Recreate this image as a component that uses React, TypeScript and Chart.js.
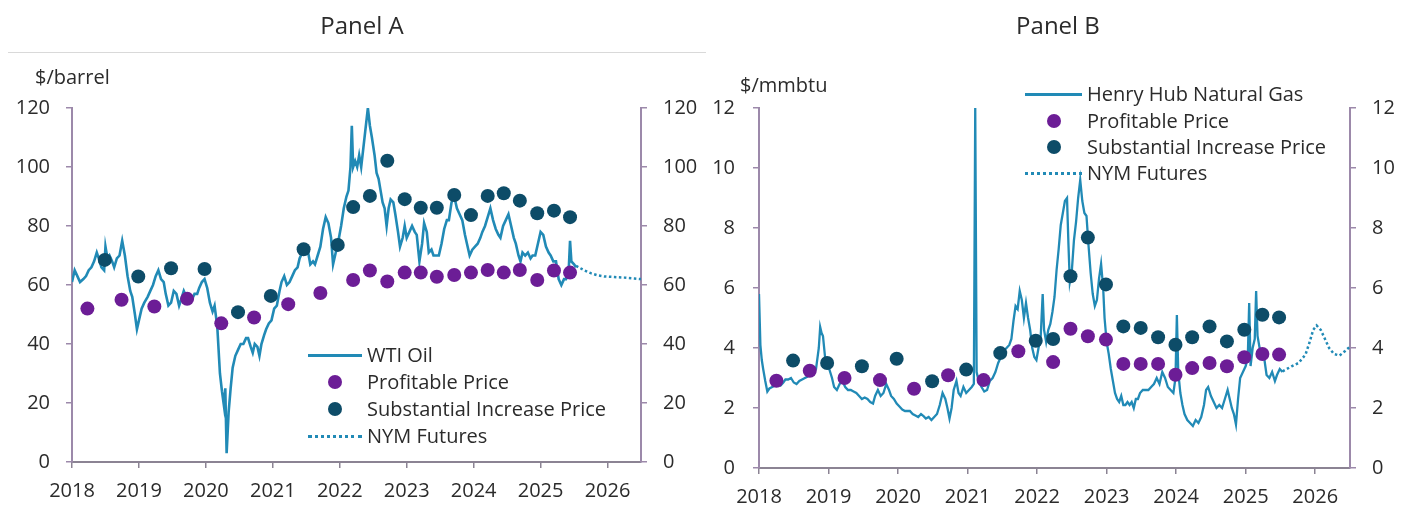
import React, { useEffect, useRef } from 'react';
import { Chart, registerables } from 'chart.js';

Chart.register(...registerables);

const FONT = "'Open Sans', 'Noto Sans', sans-serif";
const TEXT = '#2b2b2b';
const LINE_BLUE = '#218ab6';
const PURPLE = '#6c1d96';
const TEAL = '#0d4c68';
const AXIS_Y = '#9c89aa';
const AXIS_X = '#8b8393';

// ---------- shared tick labels ----------
const xTickYears = [2018, 2019, 2020, 2021, 2022, 2023, 2024, 2025, 2026];
const oilTicks = [0, 20, 40, 60, 80, 100, 120];
const gasTicks = [0, 2, 4, 6, 8, 10, 12];

// ---------- Panel A: WTI oil ($/barrel) ----------
const wtiDates = [
  2018.00, 2018.04, 2018.08, 2018.12, 2018.17, 2018.21, 2018.25, 2018.29, 2018.33, 2018.37,
  2018.40, 2018.44, 2018.48, 2018.50, 2018.53, 2018.56, 2018.60, 2018.63, 2018.67, 2018.71,
  2018.75, 2018.79, 2018.83, 2018.87, 2018.90, 2018.94, 2018.97, 2019.00, 2019.04, 2019.08,
  2019.13, 2019.17, 2019.21, 2019.25, 2019.29, 2019.33, 2019.37, 2019.40, 2019.44, 2019.48,
  2019.52, 2019.56, 2019.60, 2019.63, 2019.67, 2019.71, 2019.75, 2019.79, 2019.83, 2019.87,
  2019.90, 2019.94, 2019.98, 2020.02, 2020.06, 2020.10, 2020.13, 2020.17, 2020.21, 2020.24,
  2020.27, 2020.29, 2020.31, 2020.34, 2020.37, 2020.40, 2020.44, 2020.48, 2020.52, 2020.56,
  2020.60, 2020.63, 2020.67, 2020.70, 2020.73, 2020.77, 2020.80, 2020.83, 2020.87, 2020.90,
  2020.94, 2020.98, 2021.02, 2021.06, 2021.10, 2021.13, 2021.17, 2021.21, 2021.25, 2021.29,
  2021.33, 2021.37, 2021.40, 2021.44, 2021.48, 2021.52, 2021.56, 2021.60, 2021.63, 2021.67,
  2021.71, 2021.75, 2021.79, 2021.83, 2021.87, 2021.90, 2021.94, 2021.98, 2022.02, 2022.06,
  2022.10, 2022.13, 2022.16, 2022.18, 2022.20, 2022.23, 2022.26, 2022.29, 2022.32, 2022.35,
  2022.38, 2022.42, 2022.45, 2022.48, 2022.52, 2022.55, 2022.58, 2022.61, 2022.64, 2022.67,
  2022.70, 2022.73, 2022.76, 2022.80, 2022.83, 2022.87, 2022.90, 2022.94, 2022.97, 2023.00,
  2023.04, 2023.08, 2023.12, 2023.15, 2023.19, 2023.23, 2023.26, 2023.30, 2023.33, 2023.37,
  2023.40, 2023.44, 2023.48, 2023.52, 2023.56, 2023.60, 2023.63, 2023.67, 2023.71, 2023.75,
  2023.79, 2023.83, 2023.87, 2023.90, 2023.94, 2023.98, 2024.02, 2024.06, 2024.10, 2024.13,
  2024.17, 2024.21, 2024.25, 2024.29, 2024.33, 2024.37, 2024.40, 2024.44, 2024.48, 2024.52,
  2024.56, 2024.60, 2024.63, 2024.67, 2024.70, 2024.73, 2024.77, 2024.81, 2024.85, 2024.88,
  2024.92, 2024.96, 2025.00, 2025.04, 2025.08, 2025.12, 2025.15, 2025.19, 2025.23, 2025.27,
  2025.31, 2025.35, 2025.38, 2025.42, 2025.44, 2025.46, 2025.50, 2025.53,
];
const wtiValues = [
  61, 65, 63, 61, 62, 63, 65, 66, 68, 71,
  69, 66, 65, 73, 69, 70, 68, 66, 69, 70,
  75, 70, 63, 58, 56, 50, 45, 48, 52, 54,
  56, 58, 60, 63, 65, 62, 61, 57, 53, 54,
  58, 57, 53, 55, 58, 56, 54, 55, 57, 57,
  59, 61, 62, 59, 54, 51, 53, 46, 30, 24,
  19, 25, 3, 17, 25, 32, 36, 38, 40, 40,
  42, 42, 39, 37, 40, 39, 36, 40, 43, 45,
  47, 48, 52, 53, 58, 61, 63, 60, 61, 63,
  65, 66, 69, 71, 73, 72, 67, 68, 67, 70,
  73, 79, 83, 81, 76, 67, 71, 75, 80, 86,
  90, 92, 100, 114, 100, 102, 100, 104, 100, 106,
  112, 120, 114, 110, 104, 98, 96, 92, 88, 86,
  80, 86, 89, 88, 84, 78, 73, 76, 80, 76,
  78, 80, 78, 77, 68, 74, 81, 78, 71, 72,
  70, 70, 70, 74, 79, 82, 82, 88, 90, 86,
  84, 82, 77, 74, 70, 72, 73, 74, 76, 78,
  80, 83, 86, 82, 79, 77, 76, 80, 82, 84,
  80, 76, 74, 70, 68, 71, 70, 71, 69, 70,
  70, 74, 78, 77, 73, 71, 70, 68, 68, 62,
  60, 62, 62, 65, 75, 68, 67, 66,
];
const wtiFutDates = [2025.53, 2025.65, 2025.75, 2025.85, 2025.95, 2026.10, 2026.25, 2026.40, 2026.50];
const wtiFutValues = [66.5, 65, 64, 63.3, 62.9, 62.7, 62.5, 62.2, 62.0];

const oilProfDates = [
  2018.23, 2018.74, 2019.23, 2019.72, 2020.23, 2020.72, 2021.23, 2021.71,
  2022.20, 2022.45, 2022.71, 2022.97, 2023.21, 2023.45, 2023.71, 2023.96,
  2024.21, 2024.45, 2024.69, 2024.95, 2025.20, 2025.44,
];
const oilProfValues = [
  52, 55, 52.7, 55.3, 47, 49, 53.5, 57.3,
  61.7, 64.9, 61.2, 64.2, 64.2, 62.8, 63.4, 64.2,
  65.1, 64.2, 65.1, 61.7, 64.9, 64.2,
];
const oilSubDates = [
  2018.49, 2018.99, 2019.48, 2019.98, 2020.48, 2020.97, 2021.46, 2021.97,
  2022.20, 2022.45, 2022.71, 2022.97, 2023.21, 2023.45, 2023.71, 2023.96,
  2024.21, 2024.45, 2024.69, 2024.95, 2025.20, 2025.44,
];
const oilSubValues = [
  68.5, 62.9, 65.7, 65.4, 50.8, 56.3, 72.1, 73.6,
  86.4, 90.2, 102.1, 89.1, 86.2, 86.2, 90.5, 83.7,
  90.2, 91.1, 88.6, 84.3, 85.2, 83.0,
];

// ---------- Panel B: Henry Hub natural gas ($/mmbtu) ----------
const hhDates = [
  2018.00, 2018.02, 2018.04, 2018.06, 2018.09, 2018.12, 2018.15, 2018.19, 2018.23, 2018.27,
  2018.31, 2018.35, 2018.38, 2018.42, 2018.46, 2018.50, 2018.54, 2018.58, 2018.62, 2018.66,
  2018.70, 2018.74, 2018.78, 2018.82, 2018.86, 2018.88, 2018.90, 2018.92, 2018.95, 2018.98,
  2019.01, 2019.05, 2019.08, 2019.12, 2019.16, 2019.20, 2019.24, 2019.28, 2019.32, 2019.36,
  2019.40, 2019.44, 2019.48, 2019.52, 2019.56, 2019.60, 2019.64, 2019.67, 2019.71, 2019.75,
  2019.79, 2019.83, 2019.87, 2019.90, 2019.94, 2019.98, 2020.02, 2020.06, 2020.10, 2020.13,
  2020.17, 2020.21, 2020.25, 2020.29, 2020.33, 2020.37, 2020.40, 2020.44, 2020.48, 2020.52,
  2020.56, 2020.60, 2020.64, 2020.68, 2020.71, 2020.74, 2020.77, 2020.80, 2020.84, 2020.87,
  2020.90, 2020.94, 2020.98, 2021.02, 2021.06, 2021.09, 2021.11, 2021.13, 2021.16, 2021.20,
  2021.24, 2021.28, 2021.32, 2021.36, 2021.40, 2021.44, 2021.48, 2021.52, 2021.56, 2021.60,
  2021.63, 2021.66, 2021.69, 2021.72, 2021.75, 2021.78, 2021.81, 2021.84, 2021.87, 2021.90,
  2021.93, 2021.96, 2021.99, 2022.02, 2022.05, 2022.08, 2022.10, 2022.13, 2022.16, 2022.19,
  2022.22, 2022.25, 2022.28, 2022.31, 2022.34, 2022.37, 2022.40, 2022.43, 2022.45, 2022.47,
  2022.50, 2022.53, 2022.56, 2022.59, 2022.62, 2022.65, 2022.68, 2022.71, 2022.74, 2022.77,
  2022.80, 2022.83, 2022.86, 2022.89, 2022.92, 2022.95, 2022.97, 2023.00, 2023.03, 2023.06,
  2023.09, 2023.12, 2023.15, 2023.18, 2023.21, 2023.24, 2023.27, 2023.30, 2023.33, 2023.36,
  2023.39, 2023.42, 2023.45, 2023.48, 2023.52, 2023.56, 2023.60, 2023.64, 2023.68, 2023.72,
  2023.76, 2023.80, 2023.84, 2023.88, 2023.92, 2023.96, 2023.99, 2024.01, 2024.03, 2024.06,
  2024.09, 2024.12, 2024.16, 2024.20, 2024.24, 2024.28, 2024.32, 2024.36, 2024.40, 2024.43,
  2024.46, 2024.50, 2024.54, 2024.58, 2024.62, 2024.66, 2024.70, 2024.74, 2024.77, 2024.80,
  2024.83, 2024.86, 2024.89, 2024.92, 2024.96, 2025.00, 2025.03, 2025.05, 2025.07, 2025.10,
  2025.13, 2025.15, 2025.17, 2025.20, 2025.23, 2025.27, 2025.30, 2025.34, 2025.38, 2025.42,
  2025.45, 2025.49, 2025.53,
];
const hhValues = [
  5.8, 4.1, 3.6, 3.3, 2.9, 2.55, 2.65, 2.7, 2.75, 2.8,
  2.75, 2.85, 2.95, 2.95, 3.0, 2.85, 2.8, 2.9, 2.95, 3.0,
  3.05, 3.15, 3.2, 3.3, 4.0, 4.7, 4.5, 4.4, 3.7, 3.4,
  3.3, 3.0, 2.7, 2.6, 2.8, 2.9, 2.7, 2.6, 2.6, 2.55,
  2.5, 2.4, 2.3, 2.35, 2.3, 2.2, 2.15, 2.4, 2.6, 2.4,
  2.5, 2.8, 2.6, 2.4, 2.3, 2.15, 2.05, 1.95, 1.9, 1.9,
  1.9, 1.8, 1.75, 1.7, 1.8, 1.72, 1.65, 1.7, 1.6, 1.7,
  1.8, 2.1, 2.5, 2.3, 2.0, 1.65, 2.0, 2.6, 2.9, 2.5,
  2.4, 2.7, 2.5, 2.6, 2.7, 2.8, 12, 3.2, 2.9, 2.7,
  2.55, 2.6, 2.9, 3.0, 3.2, 3.5, 3.7, 3.9, 4.0, 4.1,
  4.3, 4.9, 5.4, 5.3, 5.9, 5.6, 5.0, 5.5, 5.0, 4.6,
  4.0, 3.7, 3.6, 4.0, 4.3, 5.8, 4.6, 4.2, 4.6, 4.8,
  5.2, 5.7, 6.6, 7.3, 8.1, 8.5, 8.9, 9.0, 7.5, 6.2,
  6.6, 7.6, 8.2, 9.0, 9.6, 8.9, 8.5, 8.4, 7.4, 6.5,
  5.8, 5.4, 5.6, 6.3, 6.8, 6.0, 5.0, 4.2, 3.8, 3.3,
  2.9, 2.5, 2.3, 2.2, 2.4, 2.1, 2.1, 2.2, 2.1, 2.2,
  2.0, 2.3, 2.3, 2.5, 2.6, 2.6, 2.6, 2.7, 2.8, 3.0,
  2.8, 3.2, 3.0, 2.7, 2.6, 2.5, 3.0, 5.1, 3.2, 2.5,
  2.1, 1.8, 1.6, 1.5, 1.4, 1.6, 1.5, 1.7, 2.1, 2.6,
  2.7, 2.4, 2.2, 2.0, 2.1, 2.0, 2.3, 2.6, 2.3, 2.0,
  1.8, 1.45, 2.3, 3.0, 3.2, 3.4, 3.7, 5.5, 3.4, 4.0,
  4.3, 5.9, 4.4, 4.0, 3.8, 3.6, 3.1, 3.0, 3.2, 2.9,
  3.1, 3.3, 3.2,
];
const hhFutDates = [2025.53, 2025.66, 2025.76, 2025.86, 2025.92, 2025.97, 2026.02, 2026.08, 2026.14, 2026.20, 2026.27, 2026.35, 2026.43, 2026.50];
const hhFutValues = [3.22, 3.39, 3.5, 3.78, 4.2, 4.6, 4.75, 4.6, 4.3, 4.0, 3.8, 3.75, 3.9, 4.05];

const gasProfDates = [
  2018.25, 2018.73, 2019.23, 2019.74, 2020.23, 2020.72, 2021.23, 2021.73,
  2022.23, 2022.48, 2022.73, 2022.99, 2023.24, 2023.49, 2023.74, 2023.99,
  2024.23, 2024.48, 2024.73, 2024.98, 2025.24, 2025.48,
];
const gasProfValues = [
  2.91, 3.24, 3.0, 2.93, 2.64, 3.09, 2.93, 3.89,
  3.53, 4.64, 4.39, 4.28, 3.47, 3.47, 3.47, 3.11,
  3.33, 3.5, 3.39, 3.69, 3.8, 3.78,
];
const gasSubDates = [
  2018.49, 2018.98, 2019.48, 2019.98, 2020.49, 2020.98, 2021.47, 2021.98,
  2022.23, 2022.48, 2022.73, 2022.99, 2023.24, 2023.49, 2023.74, 2023.99,
  2024.23, 2024.48, 2024.73, 2024.98, 2025.24, 2025.48,
];
const gasSubValues = [
  3.58, 3.5, 3.39, 3.64, 2.89, 3.28, 3.83, 4.24,
  4.3, 6.39, 7.68, 6.12, 4.72, 4.67, 4.36, 4.11,
  4.36, 4.72, 4.22, 4.61, 5.11, 5.02,
];

const pts = (xs: number[], ys: number[]) => xs.map((x, i) => ({ x, y: ys[i] }));

type PanelSpec = {
  lineLabel: string;
  lineDates: number[];
  lineValues: number[];
  lineWidth: number;
  futDates: number[];
  futValues: number[];
  profDates: number[];
  profValues: number[];
  subDates: number[];
  subValues: number[];
  yTicks: number[];
  leftW: number;
  rightW: number;
  xH: number;
  top: number;
  padL: number;
  padR: number;
  padX: number;
  width: number;
};

function buildConfig(s: PanelSpec): any {
  const yMin = s.yTicks[0];
  const yMax = s.yTicks[s.yTicks.length - 1];
  const tickFont = { family: FONT, size: 20 };
  const yScale = (position: string, pad: number, w: number) => ({
    type: 'linear',
    position,
    min: yMin,
    max: yMax,
    afterBuildTicks: (sc: any) => {
      sc.ticks = s.yTicks.map((v) => ({ value: v }));
    },
    afterFit: (sc: any) => {
      sc.width = w;
    },
    ticks: { font: tickFont, color: TEXT, padding: pad, callback: (v: any) => String(v) },
    grid: { display: true, drawOnChartArea: false, drawTicks: true, tickLength: 6, color: AXIS_Y, lineWidth: 1.5 },
    border: { display: true, color: AXIS_Y, width: 2 },
  });
  return {
    type: 'scatter',
    data: {
      datasets: [
        {
          label: s.lineLabel,
          data: pts(s.lineDates, s.lineValues),
          showLine: true,
          borderColor: LINE_BLUE,
          borderWidth: s.lineWidth,
          pointRadius: 0,
          tension: 0,
          yAxisID: 'y',
          order: 10,
        },
        {
          label: 'NYM Futures',
          data: pts(s.futDates, s.futValues),
          showLine: true,
          borderColor: LINE_BLUE,
          borderWidth: 2.5,
          borderDash: [2.5, 2.5],
          pointRadius: 0,
          tension: 0,
          yAxisID: 'y',
          order: 9,
        },
        {
          label: 'Profitable Price',
          data: pts(s.profDates, s.profValues),
          showLine: false,
          pointRadius: 7,
          pointBackgroundColor: PURPLE,
          pointBorderWidth: 0,
          backgroundColor: PURPLE,
          yAxisID: 'y',
          order: 1,
        },
        {
          label: 'Substantial Increase Price',
          data: pts(s.subDates, s.subValues),
          showLine: false,
          pointRadius: 7,
          pointBackgroundColor: TEAL,
          pointBorderWidth: 0,
          backgroundColor: TEAL,
          yAxisID: 'y',
          order: 2,
        },
      ],
    },
    options: {
      responsive: false,
      animation: false,
      devicePixelRatio: 1,
      layout: { padding: { top: s.top, left: 0, right: 0, bottom: 0 } },
      plugins: { legend: { display: false }, tooltip: { enabled: false }, title: { display: false } },
      scales: {
        x: {
          type: 'linear',
          min: 2018,
          max: 2026.5,
          afterBuildTicks: (sc: any) => {
            sc.ticks = xTickYears.map((v) => ({ value: v }));
          },
          afterFit: (sc: any) => {
            sc.height = s.xH;
          },
          ticks: { font: tickFont, color: TEXT, padding: s.padX, maxRotation: 0, autoSkip: false, callback: (v: any) => String(v) },
          grid: { display: true, drawOnChartArea: false, drawTicks: true, tickLength: 6, color: AXIS_X, lineWidth: 1.5 },
          border: { display: true, color: AXIS_X, width: 2 },
        },
        y: yScale('left', s.padL, s.leftW),
        y2: yScale('right', s.padR, s.rightW),
      },
    },
  };
}

function ChartCanvas({ spec, left }: { spec: PanelSpec; left: number }) {
  const ref = useRef<HTMLCanvasElement>(null);
  useEffect(() => {
    if (!ref.current) return;
    const chart = new Chart(ref.current, buildConfig(spec));
    return () => chart.destroy();
  }, [spec]);
  return (
    <canvas
      ref={ref}
      width={spec.width}
      height={513}
      style={{ position: 'absolute', left, top: 0, width: spec.width, height: 513 }}
    />
  );
}

type LegendRow = { label: string; kind: 'line' | 'dot' | 'dash'; color: string };

function Legend({ left, rows, ys, symW, textLeft, lineW }: { left: number; rows: LegendRow[]; ys: number[]; symW: number; textLeft: number; lineW: number }) {
  return (
    <>
      {rows.map((r, i) => (
        <React.Fragment key={r.label}>
          {r.kind === 'dot' ? (
            <div
              style={{
                position: 'absolute',
                left: left + symW / 2 - 7,
                top: ys[i] - 7,
                width: 14,
                height: 14,
                borderRadius: 7,
                background: r.color,
              }}
            />
          ) : (
            <div
              style={{
                position: 'absolute',
                left,
                top: ys[i] - lineW / 2,
                width: symW,
                height: 0,
                borderTop: `${lineW}px ${r.kind === 'dash' ? 'dotted' : 'solid'} ${r.color}`,
              }}
            />
          )}
          <div
            style={{
              position: 'absolute',
              left: textLeft,
              top: ys[i] - 13,
              height: 26,
              lineHeight: '26px',
              fontFamily: FONT,
              fontSize: 20,
              color: TEXT,
              whiteSpace: 'nowrap',
            }}
          >
            {r.label}
          </div>
        </React.Fragment>
      ))}
    </>
  );
}

const specA: PanelSpec = {
  lineLabel: 'WTI Oil',
  lineDates: wtiDates,
  lineValues: wtiValues,
  lineWidth: 2.6,
  futDates: wtiFutDates,
  futValues: wtiFutValues,
  profDates: oilProfDates,
  profValues: oilProfValues,
  subDates: oilSubDates,
  subValues: oilSubValues,
  yTicks: oilTicks,
  leftW: 72,
  rightW: 69,
  xH: 51,
  top: 108,
  padL: 16,
  padR: 16,
  padX: 11,
  width: 710,
};

const specB: PanelSpec = {
  lineLabel: 'Henry Hub Natural Gas',
  lineDates: hhDates,
  lineValues: hhValues,
  lineWidth: 2.3,
  futDates: hhFutDates,
  futValues: hhFutValues,
  profDates: gasProfDates,
  profValues: gasProfValues,
  subDates: gasSubDates,
  subValues: gasSubValues,
  yTicks: gasTicks,
  leftW: 59,
  rightW: 64,
  xH: 45,
  top: 108,
  padL: 18,
  padR: 16,
  padX: 11,
  width: 714,
};

export default function App() {
  const textBase: React.CSSProperties = { position: 'absolute', fontFamily: FONT, color: TEXT, whiteSpace: 'nowrap' };
  return (
    <div style={{ position: 'absolute', left: 0, top: 0, width: 1414, height: 513, background: '#ffffff', overflow: 'hidden' }}>
      <ChartCanvas spec={specA} left={0} />
      <ChartCanvas spec={specB} left={700} />
      <div style={{ ...textBase, left: 262, width: 200, top: 10, fontSize: 24, lineHeight: '30px', textAlign: 'center' }}>Panel A</div>
      <div style={{ ...textBase, left: 958, width: 200, top: 10, fontSize: 24, lineHeight: '30px', textAlign: 'center' }}>Panel B</div>
      <div style={{ position: 'absolute', left: 8, top: 52, width: 698, height: 1, background: '#d9d9d9' }} />
      <div style={{ ...textBase, left: 35, top: 64, fontSize: 20, lineHeight: '26px' }}>$/barrel</div>
      <div style={{ ...textBase, left: 740, top: 72, fontSize: 20, lineHeight: '26px' }}>$/mmbtu</div>
      <Legend
        left={308}
        symW={54}
        textLeft={367}
        lineW={3}
        ys={[355, 382, 409, 436]}
        rows={[
          { label: 'WTI Oil', kind: 'line', color: LINE_BLUE },
          { label: 'Profitable Price', kind: 'dot', color: PURPLE },
          { label: 'Substantial Increase Price', kind: 'dot', color: TEAL },
          { label: 'NYM Futures', kind: 'dash', color: LINE_BLUE },
        ]}
      />
      <Legend
        left={1025}
        symW={57}
        textLeft={1087}
        lineW={3}
        ys={[94, 121, 147, 173]}
        rows={[
          { label: 'Henry Hub Natural Gas', kind: 'line', color: LINE_BLUE },
          { label: 'Profitable Price', kind: 'dot', color: PURPLE },
          { label: 'Substantial Increase Price', kind: 'dot', color: TEAL },
          { label: 'NYM Futures', kind: 'dash', color: LINE_BLUE },
        ]}
      />
    </div>
  );
}
